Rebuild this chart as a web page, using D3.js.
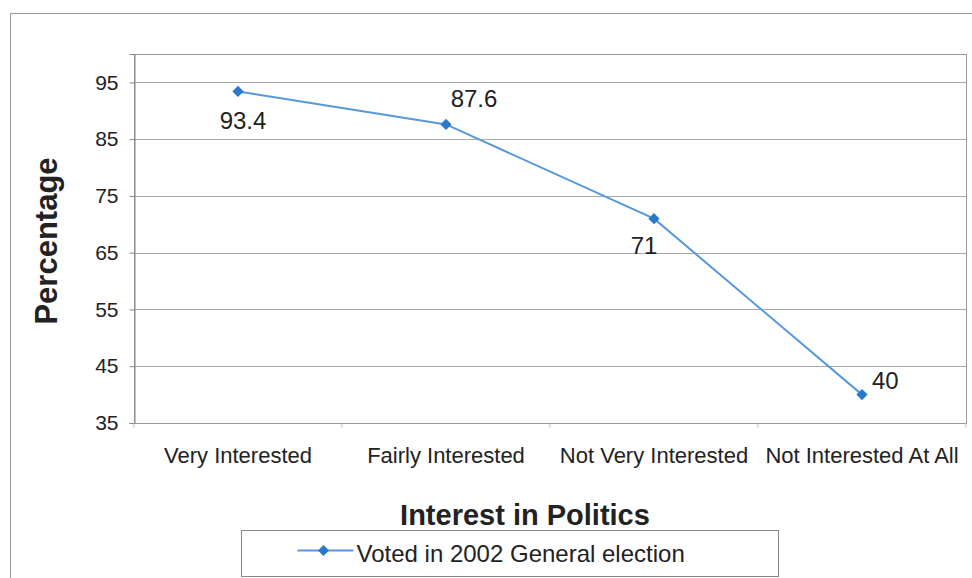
<!DOCTYPE html>
<html>
<head>
<meta charset="utf-8">
<script src="https://cdn.jsdelivr.net/npm/d3@7"></script>
<style>
  body { margin: 0; background: #fff; }
  svg { display: block; font-family: Arial, "Liberation Sans", sans-serif; }
</style>
</head>
<body>
<div id="chart"></div>
<script>
const categories = ['Very Interested', 'Fairly Interested', 'Not Very Interested', 'Not Interested At All']
const values = [93.4, 87.6, 71, 40]
const yTicks = [35, 45, 55, 65, 75, 85, 95]
const seriesName = 'Voted in 2002 General election'

const width = 972
const height = 578
const margin = ({top: 54, right: 6, bottom: 155, left: 134})

const x = d3.scaleBand()
  .domain(categories)
  .range([margin.left, width - margin.right])
const y = d3.scaleLinear()
  .domain([35, 100])
  .range([height - margin.bottom, margin.top])

const svg = d3.create('svg')
  .attr('width', width)
  .attr('height', height)

// outer chart frame
svg.append('rect')
  .attr('x', 10.5).attr('y', 13.5)
  .attr('width', 966).attr('height', 570)
  .attr('fill', 'none').attr('stroke', '#9a9a9a')

// gridlines
svg.append('g')
  .selectAll('line')
  .data(yTicks.slice(1))
  .join('line')
    .attr('x1', margin.left).attr('x2', width - margin.right)
    .attr('y1', d => Math.round(y(d)) + 0.5).attr('y2', d => Math.round(y(d)) + 0.5)
    .attr('stroke', '#a8a8a8')

// plot area border
svg.append('rect')
  .attr('x', margin.left + 0.5).attr('y', margin.top + 0.5)
  .attr('width', width - margin.right - margin.left).attr('height', height - margin.bottom - margin.top)
  .attr('fill', 'none').attr('stroke', '#999')

// y axis
const yAxis = svg.append('g')
  .attr('transform', `translate(${margin.left + 0.5}, 0)`)
  .call(d3.axisLeft(y).tickValues(yTicks).tickSize(5).tickPadding(11))
yAxis.select('.domain').attr('stroke', '#888')
yAxis.selectAll('.tick line').attr('stroke', '#888')
yAxis.selectAll('text').attr('font-size', 21).attr('fill', '#222')
  .attr('font-family', 'Arial, "Liberation Sans", sans-serif')

// x axis: ticks between categories, labels centered
const xAxis = svg.append('g')
  .attr('transform', `translate(0, ${height - margin.bottom + 0.5})`)
xAxis.selectAll('line')
  .data(d3.range(categories.length + 1))
  .join('line')
    .attr('x1', i => margin.left + i * x.step()).attr('x2', i => margin.left + i * x.step())
    .attr('y1', 0).attr('y2', 4)
    .attr('stroke', '#bbb')
xAxis.selectAll('text')
  .data(categories)
  .join('text')
    .attr('x', d => x(d) + x.bandwidth() / 2)
    .attr('y', 39)
    .attr('text-anchor', 'middle')
    .attr('font-size', 22)
    .attr('fill', '#222')
    .text(d => d)

// line
const pts = categories.map((c, i) => ({cat: c, value: values[i]}))
const line = d3.line()
  .x(d => x(d.cat) + x.bandwidth() / 2)
  .y(d => y(d.value))
svg.append('path')
  .datum(pts)
  .attr('d', line)
  .attr('fill', 'none')
  .attr('stroke', '#5598dc')
  .attr('stroke-width', 2)

const diamond = d3.symbol().type(d3.symbolDiamond2).size(80)
svg.append('g')
  .selectAll('path')
  .data(pts)
  .join('path')
    .attr('transform', d => `translate(${x(d.cat) + x.bandwidth() / 2}, ${y(d.value)})`)
    .attr('d', diamond)
    .attr('fill', '#2a78cc')

// data labels
const labelOffset = [[5, 38], [28, -17], [-10, 35], [10, -6]]
svg.append('g')
  .selectAll('text')
  .data(pts)
  .join('text')
    .attr('x', (d, i) => x(d.cat) + x.bandwidth() / 2 + labelOffset[i][0])
    .attr('y', (d, i) => y(d.value) + labelOffset[i][1])
    .attr('text-anchor', (d, i) => i === 3 ? 'start' : 'middle')
    .attr('font-size', 24)
    .attr('fill', '#222')
    .text(d => d.value)

// axis titles
svg.append('text')
  .attr('transform', `translate(57, ${241}) rotate(-90)`)
  .attr('text-anchor', 'middle')
  .attr('font-size', 31)
  .attr('font-weight', 'bold')
  .attr('fill', '#222')
  .text('Percentage')

svg.append('text')
  .attr('x', 525).attr('y', 525)
  .attr('text-anchor', 'middle')
  .attr('font-size', 29)
  .attr('font-weight', 'bold')
  .attr('fill', '#222')
  .text('Interest in Politics')

// legend
const legend = svg.append('g').attr('transform', 'translate(241.5, 530.5)')
legend.append('rect')
  .attr('width', 537).attr('height', 46)
  .attr('fill', '#fff').attr('stroke', '#888')
legend.append('line')
  .attr('x1', 56).attr('x2', 112).attr('y1', 20).attr('y2', 20)
  .attr('stroke', '#5598dc').attr('stroke-width', 2)
legend.append('path')
  .attr('transform', 'translate(82, 20)')
  .attr('d', diamond)
  .attr('fill', '#2a78cc')
legend.append('text')
  .attr('x', 115).attr('y', 31)
  .attr('font-size', 24)
  .attr('fill', '#222')
  .text(seriesName)

document.getElementById('chart').appendChild(svg.node())
</script>
</body>
</html>
